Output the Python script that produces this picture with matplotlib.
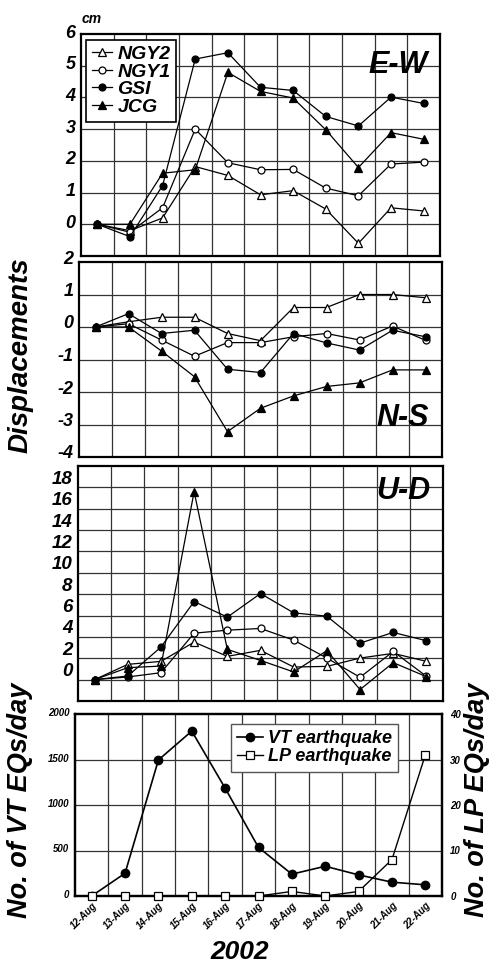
import matplotlib
matplotlib.use("Agg")
import matplotlib.pyplot as plt
import matplotlib.transforms as mtrans
from matplotlib.ticker import FixedLocator
import numpy as np

plt.rcParams['font.family'] = ['Liberation Sans', 'DejaVu Sans']
plt.rcParams['axes.unicode_minus'] = False

dates = ['12-Aug', '13-Aug', '14-Aug', '15-Aug', '16-Aug', '17-Aug',
         '18-Aug', '19-Aug', '20-Aug', '21-Aug', '22-Aug']
stations = ['NGY2', 'NGY1', 'GSI', 'JCG']

ew_ngy2 = [0, -0.2, 0.2, 1.82, 1.54, 0.93, 1.06, 0.48, -0.6, 0.52, 0.42]
ew_ngy1 = [0, -0.25, 0.52, 3.0, 1.94, 1.72, 1.73, 1.14, 0.9, 1.9, 1.96]
ew_gsi = [0, -0.39, 1.22, 5.21, 5.41, 4.32, 4.22, 3.4, 3.1, 4.01, 3.81]
ew_jcg = [0, 0.0, 1.61, 1.72, 4.79, 4.19, 3.98, 2.98, 1.79, 2.89, 2.68]

ns_ngy2 = [0, 0.16, 0.3, 0.3, -0.2, -0.42, 0.6, 0.6, 1.0, 1.0, 0.9]
ns_ngy1 = [0, 0.1, -0.4, -0.9, -0.48, -0.48, -0.3, -0.2, -0.4, 0.03, -0.41]
ns_gsi = [0, 0.41, -0.2, -0.1, -1.3, -1.4, -0.2, -0.49, -0.71, -0.1, -0.3]
ns_jcg = [0, 0.0, -0.74, -1.53, -3.22, -2.5, -2.12, -1.83, -1.72, -1.32, -1.32]

ud_ngy2 = [0, 1.43, 1.71, 3.51, 2.18, 2.74, 1.18, 1.24, 2.02, 2.46, 1.71]
ud_ngy1 = [0, 0.25, 0.65, 4.35, 4.63, 4.79, 3.7, 2.02, 0.22, 2.64, 0.31]
ud_gsi = [0, 0.34, 3.05, 7.31, 5.85, 8.06, 6.25, 5.94, 3.42, 4.42, 3.64]
ud_jcg = [0, 1.12, 1.27, 17.6, 2.83, 1.8, 0.72, 2.71, -0.93, 1.59, 0.28]

vt_counts = [0, 250, 1495, 1812, 1185, 534, 240, 327, 232, 152, 123]
lp_counts = [0, 0, 0, 0, 0, 0, 1, 0, 1, 8, 31]

ew_ticks = [0, 1, 2, 3, 4, 5, 6]
ns_ticks = [-4, -3, -2, -1, 0, 1, 2]
ud_ticks = [0, 2, 4, 6, 8, 10, 12, 14, 16, 18]
vt_ticks = [0, 500, 1000, 1500, 2000]
lp_ticks = [0, 10, 20, 30, 40]

W, H = 493, 965
fig = plt.figure(figsize=(W / 100, H / 100), dpi=100)

def rect(l, r, t, b):
    return [l / W, 1 - b / H, (r - l) / W, (b - t) / H]

ax_ew = fig.add_axes(rect(81, 440, 34, 256))
ax_ns = fig.add_axes(rect(79, 442, 262, 457))
ax_ud = fig.add_axes(rect(78, 443, 466, 701))
ax_eq = fig.add_axes(rect(75, 442, 714, 896))

x = np.arange(len(dates))
styles = {
    'NGY2': dict(marker='^', mfc='white', ms=5.5),
    'NGY1': dict(marker='o', mfc='white', ms=5),
    'GSI': dict(marker='o', mfc='black', ms=5),
    'JCG': dict(marker='^', mfc='black', ms=5.5),
}
bi = dict(fontweight='bold', fontstyle='italic')

def base(ax, ylim, ygrid, yticks, ydy, tsize):
    ax.xaxis.remove_overlapping_locs = False
    ax.yaxis.remove_overlapping_locs = False
    ax.set_xlim(-0.5, len(dates) - 0.5)
    ax.set_ylim(*ylim)
    ax.set_xticks(x)
    ax.set_yticks(yticks)
    ax.xaxis.set_minor_locator(FixedLocator(np.arange(0.5, len(dates) - 1, 1.0)))
    ax.yaxis.set_minor_locator(FixedLocator(ygrid))
    ax.grid(which='minor', color='#333333', lw=0.9)
    ax.grid(which='major', visible=False)
    ax.tick_params(which='both', length=0)
    ax.tick_params(axis='x', labelbottom=False)
    ax.tick_params(axis='y', labelsize=tsize, pad=4)
    for s in ax.spines.values():
        s.set_linewidth(1.6)
    off = mtrans.ScaledTranslation(0, ydy / 100, fig.dpi_scale_trans)
    for lab in ax.get_yticklabels():
        lab.set_fontweight('bold')
        lab.set_fontstyle('italic')
        lab.set_transform(lab.get_transform() + off)

def plot_set(ax, data):
    for name, vals in zip(stations, data):
        st = styles[name]
        ax.plot(x, vals, color='black', lw=0.9, marker=st['marker'], ms=st['ms'],
                mfc=st['mfc'], mec='black', mew=0.9, label=name, zorder=3)

base(ax_ew, (-1, 6), np.arange(0, 6, 1), ew_ticks, 3, 13)
plot_set(ax_ew, [ew_ngy2, ew_ngy1, ew_gsi, ew_jcg])
leg = ax_ew.legend(loc='upper left', bbox_to_anchor=(0.015, 0.975),
                   prop=dict(weight='bold', style='italic', size=14),
                   handlelength=1.0, handletextpad=0.3, labelspacing=0.0,
                   borderpad=0.3, borderaxespad=0, fancybox=False,
                   edgecolor='black', framealpha=1)
leg.get_frame().set_linewidth(1.2)
ax_ew.text(0.965, 0.86, 'E-W', transform=ax_ew.transAxes, ha='right', va='center',
           fontsize=22, **bi)
fig.text(92 / W, 1 - 19 / H, 'cm', ha='center', va='center', fontsize=10, **bi)

base(ax_ns, (-4, 2), np.arange(-3, 2, 1), ns_ticks, 5, 13)
plot_set(ax_ns, [ns_ngy2, ns_ngy1, ns_gsi, ns_jcg])
ax_ns.text(0.965, 0.2, 'N-S', transform=ax_ns.transAxes, ha='right', va='center',
           fontsize=22, **bi)

base(ax_ud, (-2, 20), np.arange(0, 20, 2), ud_ticks, 10, 13.5)
plot_set(ax_ud, [ud_ngy2, ud_ngy1, ud_gsi, ud_jcg])
ax_ud.text(0.965, 0.895, 'U-D', transform=ax_ud.transAxes, ha='right', va='center',
           fontsize=22, **bi)

fig.text(21 / W, 1 - 355 / H, 'Displacements', rotation=90, ha='center', va='center',
         fontsize=20, **bi)

# earthquake panel
base(ax_eq, (0, 2000), [500, 1000, 1500], vt_ticks, 2, 7)
ax_eq.tick_params(axis='x', labelbottom=True, labelsize=7, pad=3)
ax_eq.set_xticklabels(dates)
for lab in ax_eq.get_xticklabels():
    lab.set_rotation(45)
    lab.set_ha('right')
    lab.set_rotation_mode('anchor')
    lab.set_fontweight('bold')
    lab.set_fontstyle('italic')
l1, = ax_eq.plot(x, vt_counts, color='black', lw=1.2, marker='o', ms=6,
                 mfc='black', mec='black', label='VT earthquake', zorder=3)
ax_r = ax_eq.twinx()
ax_r.set_ylim(0, 40)
ax_r.set_yticks(lp_ticks)
ax_r.tick_params(length=0, labelsize=7, pad=6)
for lab in ax_r.get_yticklabels():
    lab.set_fontweight('bold')
    lab.set_fontstyle('italic')
for s in ax_r.spines.values():
    s.set_linewidth(1.6)
l2, = ax_r.plot(x, lp_counts, color='black', lw=1.0, marker='s', ms=6,
                mfc='white', mec='black', mew=0.9, label='LP earthquake', zorder=4,
                clip_on=False)
leg2 = ax_r.legend(handles=[l1, l2], loc='upper left', bbox_to_anchor=(0.425, 0.945),
                   prop=dict(weight='bold', style='italic', size=13),
                   handlelength=1.4, handletextpad=0.3, labelspacing=0.05,
                   borderpad=0.35, borderaxespad=0, fancybox=False,
                   edgecolor='#555555', framealpha=1)
leg2.get_frame().set_linewidth(1.0)

fig.text(20 / W, 1 - 800 / H, 'No. of VT EQs/day', rotation=90, ha='center',
         va='center', fontsize=19.5, **bi)
fig.text(477 / W, 1 - 800 / H, 'No. of LP EQs/day', rotation=90, ha='center',
         va='center', fontsize=19.5, **bi)
fig.text(240 / W, 1 - 952 / H, '2002', ha='center', va='center', fontsize=19, **bi)

fig.savefig('out.png', dpi=100)
